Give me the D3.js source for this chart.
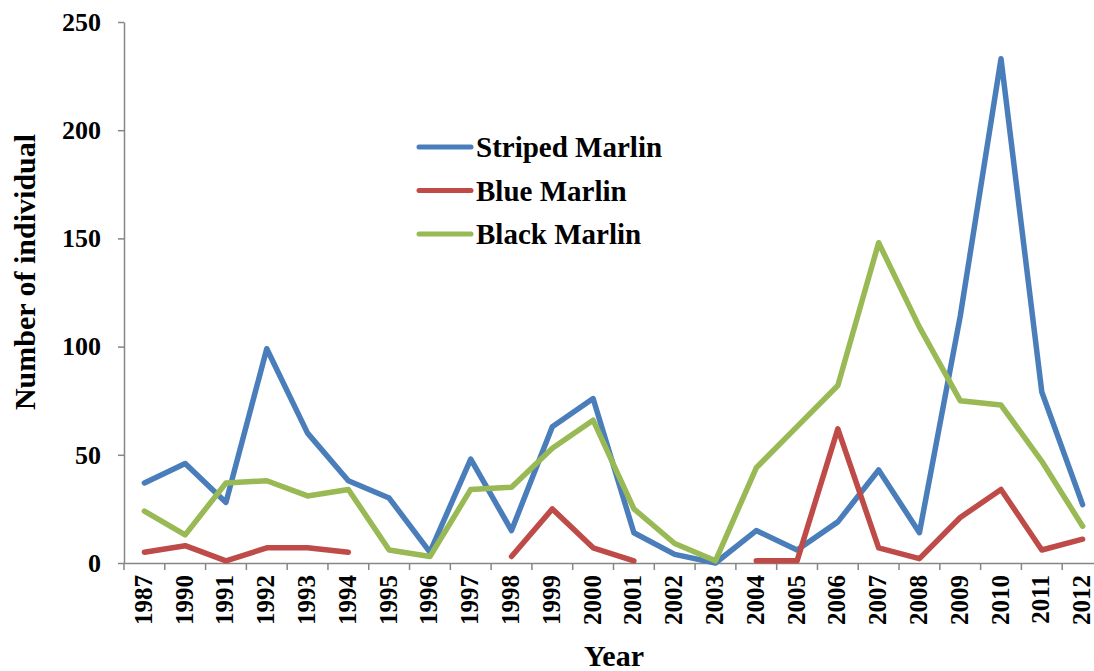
<!DOCTYPE html>
<html><head><meta charset="utf-8">
<script src="https://cdn.jsdelivr.net/npm/d3@7"></script>
<style>body{margin:0;background:#fff}svg{display:block}</style>
</head><body>
<svg id="c" width="1094" height="671"></svg>
<script>
const years = ["1987","1990","1991","1992","1993","1994","1995","1996","1997","1998","1999","2000","2001","2002","2003","2004","2005","2006","2007","2008","2009","2010","2011","2012"];
const striped = [37,46,28,99,60,38,30,5,48,15,63,76,14,4,0,15,6,19,43,14,114,233,79,27];
const blue = [5,8,1,7,7,5,null,null,null,3,25,7,1,null,null,1,1,62,7,2,21,34,6,11];
const black = [24,13,37,38,31,34,6,3,34,35,53,66,25,9,1,44,63,82,148,109,75,73,47,17];
const yTicks = [0,50,100,150,200,250];
const seriesNames = ["Striped Marlin","Blue Marlin","Black Marlin"];
const colors = ["#4A7EBB","#BE4B48","#98B954"];

(function(){
const svg = d3.select("#c");
const mL = 124, mR = 1103, mT = 22, mB = 563;
const x = d3.scaleBand().domain(years).range([mL, mR]);
const y = d3.scaleLinear().domain([0,250]).range([mB, mT]);
const font = "'Liberation Serif','Times New Roman',serif";

// Y axis
const ya = svg.append("g").attr("transform", `translate(${mL},0)`)
  .call(d3.axisLeft(y).tickValues(yTicks).tickSize(6).tickSizeOuter(0).tickPadding(17));
ya.select(".domain").attr("stroke","#868686").attr("stroke-width",1.5);
ya.selectAll(".tick line").attr("stroke","#868686").attr("stroke-width",1.5);
ya.selectAll("text").attr("font-family",font).attr("font-weight","bold").attr("font-size",26).attr("fill","#000");

// X axis
const xa = svg.append("g").attr("transform", `translate(0,${mB})`)
  .call(d3.axisBottom(x).tickSize(0).tickSizeOuter(0));
xa.select(".domain").attr("stroke","#868686").attr("stroke-width",1.5);
xa.selectAll(".tick text").attr("font-family",font).attr("font-weight","bold").attr("font-size",25).attr("fill","#000")
  .attr("text-anchor","end").attr("transform","rotate(-90)").attr("x",-12).attr("y",0).attr("dy","0.3em");
// boundary ticks
const bounds = years.map(d => x(d)).concat([mR]);
svg.append("g").selectAll("line").data(bounds).join("line")
  .attr("x1",d=>d).attr("x2",d=>d).attr("y1",mB).attr("y2",mB+7)
  .attr("stroke","#868686").attr("stroke-width",1.5);

// Lines
const cx = d => x(d) + x.bandwidth()/2;
[striped, blue, black].forEach((vals,i) => {
  const line = d3.line().defined(d => d.v != null).x(d => cx(d.y)).y(d => y(d.v));
  svg.append("path").datum(years.map((yr,j)=>({y:yr,v:vals[j]})))
    .attr("d", line).attr("fill","none").attr("stroke",colors[i])
    .attr("stroke-width",5.5).attr("stroke-linejoin","round").attr("stroke-linecap","round");
});

// Legend
const lg = svg.append("g");
seriesNames.forEach((n,i) => {
  const ly = 147 + i*43.5;
  lg.append("line").attr("x1",419).attr("x2",471).attr("y1",ly).attr("y2",ly)
    .attr("stroke",colors[i]).attr("stroke-width",5).attr("stroke-linecap","round");
  lg.append("text").attr("x",476).attr("y",ly).attr("dy","0.35em")
    .attr("font-family",font).attr("font-weight","bold").attr("font-size",29).text(n);
});

// Axis titles
svg.append("text").attr("x",614).attr("y",666).attr("text-anchor","middle")
  .attr("font-family",font).attr("font-weight","bold").attr("font-size",30).text("Year");
svg.append("text").attr("transform",`translate(35,272) rotate(-90)`).attr("text-anchor","middle")
  .attr("font-family",font).attr("font-weight","bold").attr("font-size",30).text("Number of individual");
})();
</script>
</body></html>
